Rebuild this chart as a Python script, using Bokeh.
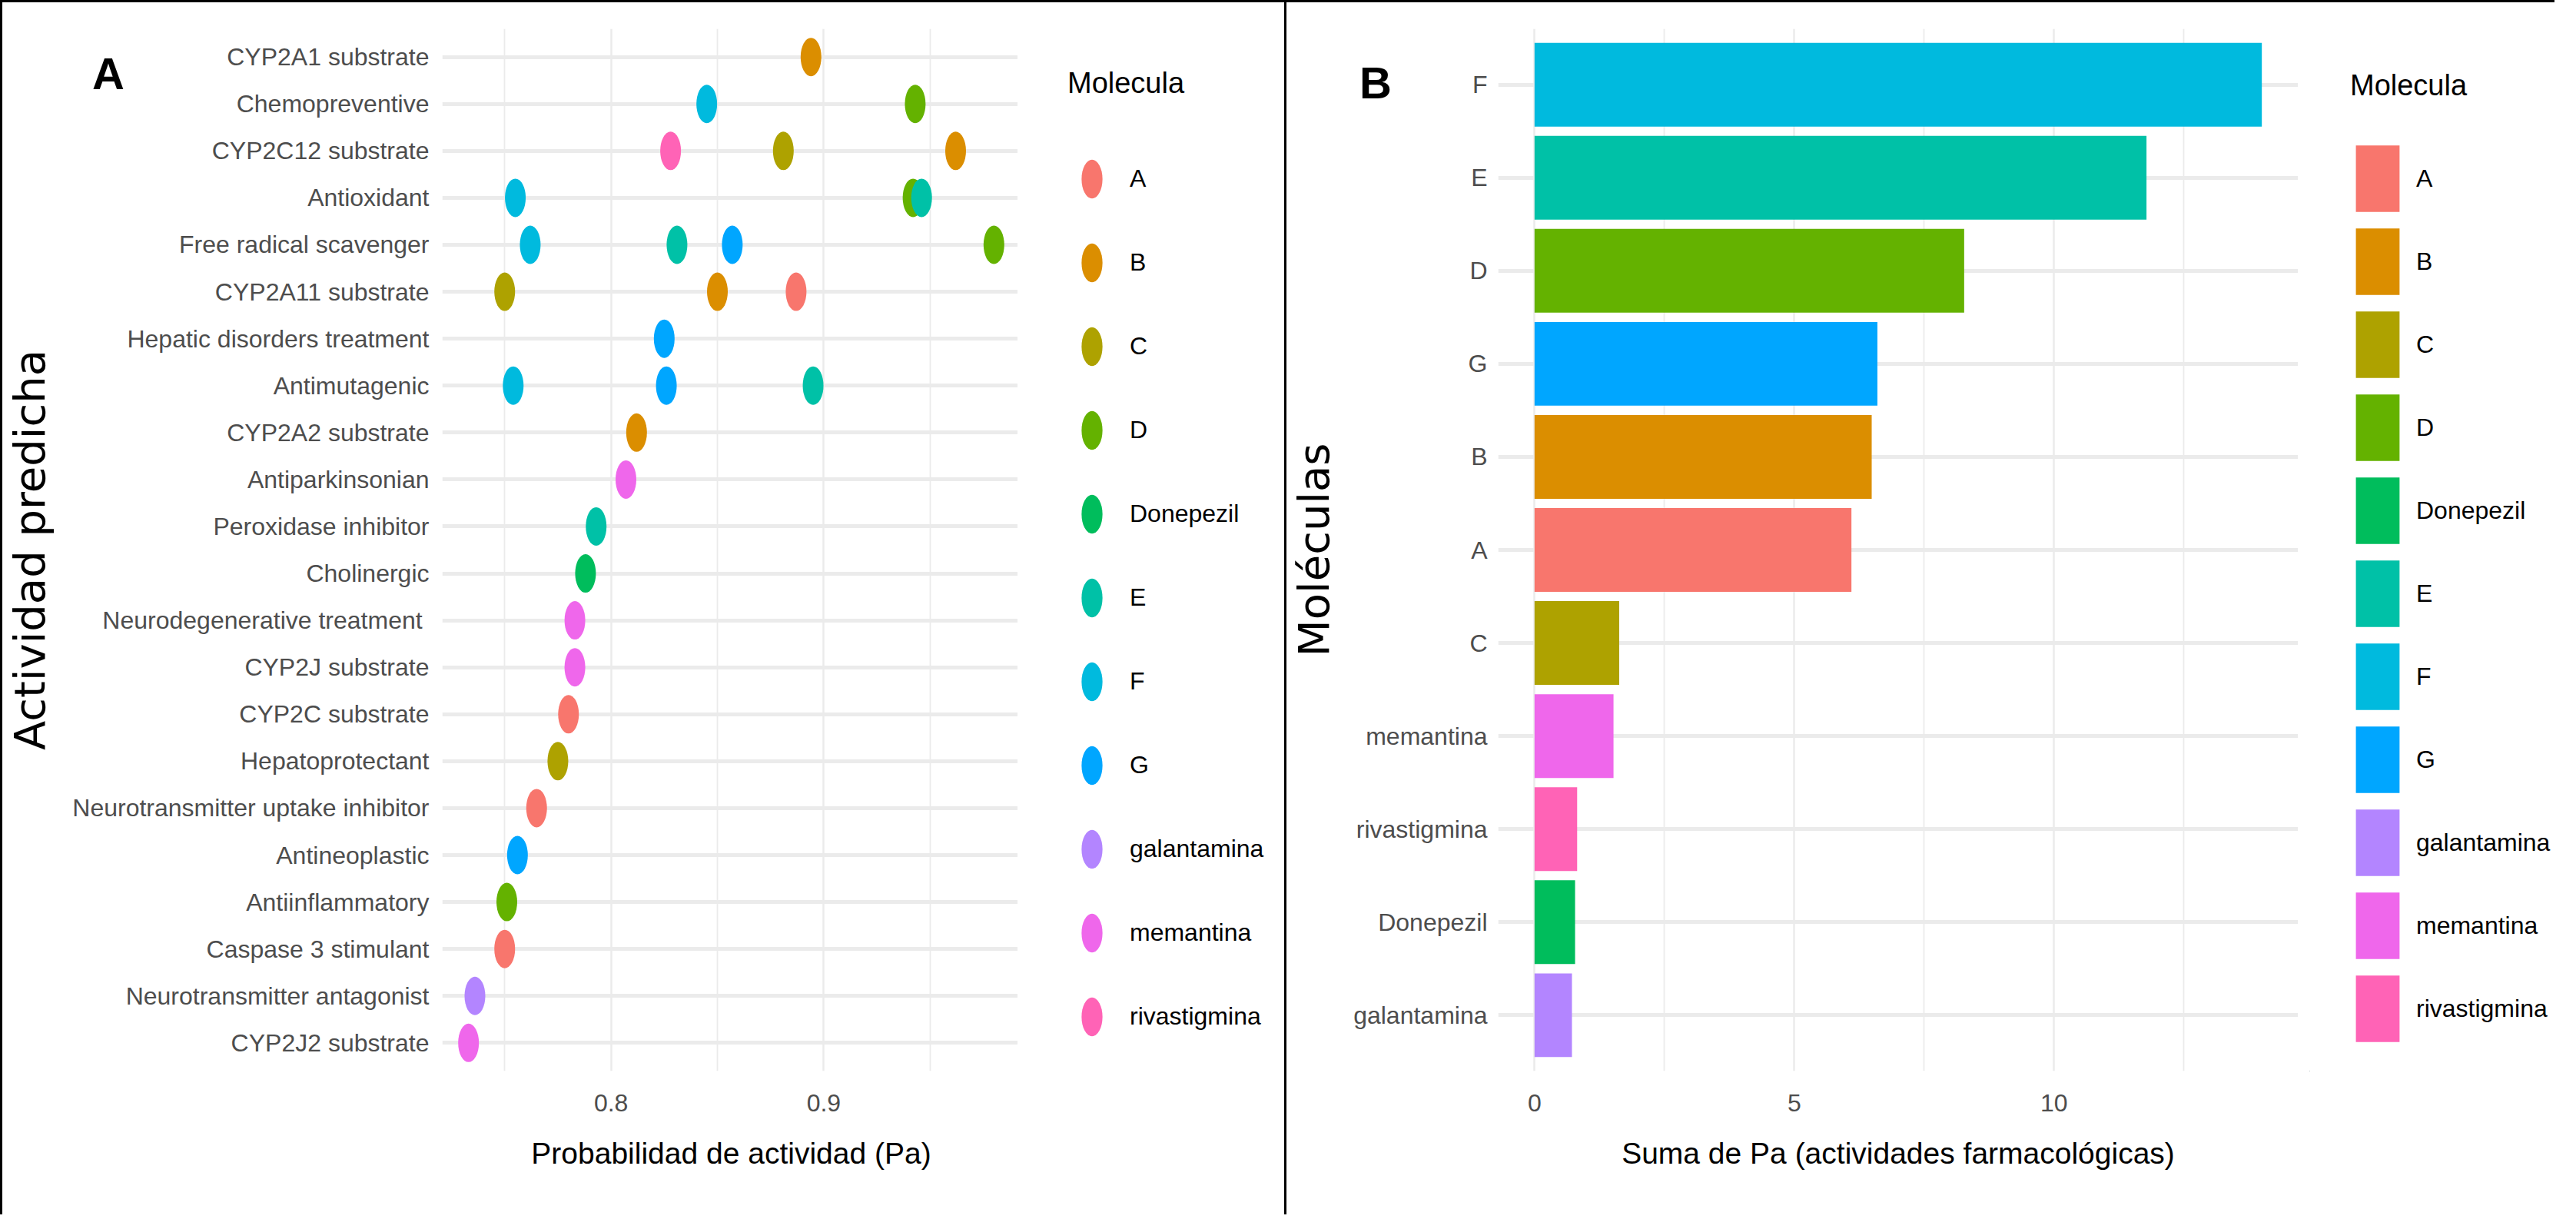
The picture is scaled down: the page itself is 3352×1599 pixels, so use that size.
from bokeh.plotting import figure
from bokeh.models import Range1d, FixedTicker, Legend, LegendItem, ColumnDataSource, Div
from bokeh.layouts import row, column
from bokeh.embed import file_html
from bokeh.resources import INLINE

# ---------------- data ----------------
molecules = ["A", "B", "C", "D", "Donepezil", "E", "F", "G",
             "galantamina", "memantina", "rivastigmina"]
palette = ["#F8766D", "#DB8E00", "#AEA200", "#64B200", "#00BD5C", "#00C1A7",
           "#00BADE", "#00A6FF", "#B385FF", "#EF67EB", "#FF63B6"]

activities = ["CYP2A1 substrate", "Chemopreventive", "CYP2C12 substrate", "Antioxidant",
              "Free radical scavenger", "CYP2A11 substrate", "Hepatic disorders treatment",
              "Antimutagenic", "CYP2A2 substrate", "Antiparkinsonian", "Peroxidase inhibitor",
              "Cholinergic", "Neurodegenerative  treatment", "CYP2J substrate",
              "CYP2C substrate", "Hepatoprotectant", "Neurotransmitter uptake inhibitor",
              "Antineoplastic", "Antiinflammatory", "Caspase 3 stimulant",
              "Neurotransmitter antagonist", "CYP2J2 substrate"]

pa_activity = ["CYP2A1 substrate",
               "Chemopreventive", "Chemopreventive",
               "CYP2C12 substrate", "CYP2C12 substrate", "CYP2C12 substrate",
               "Antioxidant", "Antioxidant", "Antioxidant",
               "Free radical scavenger", "Free radical scavenger", "Free radical scavenger", "Free radical scavenger",
               "CYP2A11 substrate", "CYP2A11 substrate", "CYP2A11 substrate",
               "Hepatic disorders treatment",
               "Antimutagenic", "Antimutagenic", "Antimutagenic",
               "CYP2A2 substrate", "Antiparkinsonian", "Peroxidase inhibitor", "Cholinergic",
               "Neurodegenerative  treatment", "CYP2J substrate", "CYP2C substrate",
               "Hepatoprotectant", "Neurotransmitter uptake inhibitor", "Antineoplastic",
               "Antiinflammatory", "Caspase 3 stimulant", "Neurotransmitter antagonist",
               "CYP2J2 substrate"]
pa_molecule = ["B",
               "F", "D",
               "rivastigmina", "C", "B",
               "F", "D", "E",
               "F", "E", "G", "D",
               "C", "B", "A",
               "G",
               "F", "G", "E",
               "B", "memantina", "E", "Donepezil",
               "memantina", "memantina", "A",
               "C", "A", "G",
               "D", "A", "galantamina",
               "memantina"]
pa_value = [0.894,
            0.845, 0.943,
            0.828, 0.881, 0.962,
            0.755, 0.942, 0.946,
            0.762, 0.831, 0.857, 0.980,
            0.750, 0.850, 0.887,
            0.825,
            0.754, 0.826, 0.895,
            0.812, 0.807, 0.793, 0.788,
            0.783, 0.783, 0.780,
            0.775, 0.765, 0.756,
            0.751, 0.750, 0.736,
            0.733]

bar_molecules = ["F", "E", "D", "G", "B", "A", "C", "memantina", "rivastigmina",
                 "Donepezil", "galantamina"]
bar_sums = [14.00, 11.78, 8.27, 6.60, 6.49, 6.10, 1.63, 1.52, 0.82, 0.78, 0.72]

# ---------------- styling ----------------
TICK_FONT = "Liberation Sans"
TITLE_FONT = "DejaVu Sans"
GRID = "#EBEBEB"
BORDER = "3px solid black"
H = 1580


def style_common(p):
    p.background_fill_color = "white"
    p.border_fill_color = "white"
    p.outline_line_color = None
    for ax in (p.xaxis[0], p.yaxis[0]):
        ax.axis_line_color = None
        ax.major_tick_line_color = None
        ax.minor_tick_line_color = None
        ax.major_tick_in = 0
        ax.major_tick_out = 0
        ax.minor_tick_in = 0
        ax.minor_tick_out = 0
        ax.major_label_text_font = TICK_FONT
        ax.major_label_text_color = "#4D4D4D"
        ax.major_label_text_font_size = "32px"
    p.xaxis.axis_label_text_font = TICK_FONT
    p.xaxis.axis_label_text_font_style = "normal"
    p.xaxis.axis_label_text_font_size = "39px"
    p.xaxis.axis_label_text_color = "black"
    p.xaxis.major_label_standoff = 30
    p.xaxis.axis_label_standoff = 30
    p.yaxis.axis_label_text_font = TITLE_FONT
    p.yaxis.axis_label_text_font_style = "normal"
    p.yaxis.axis_label_text_font_size = "56px"
    p.yaxis.axis_label_text_color = "black"
    p.ygrid.grid_line_color = GRID
    p.ygrid.grid_line_width = 5
    p.xgrid.grid_line_color = GRID
    p.xgrid.grid_line_width = 2.5
    p.xgrid.minor_grid_line_color = GRID
    p.xgrid.minor_grid_line_width = 1.8


def legend_figure(width, left, top, border_styles):
    # a figure whose frame is the whole legend area; the data ranges are chosen so
    # that the shared glyphs fall outside it and only the legend is visible
    lf = figure(width=width, height=H, output_backend="svg", toolbar_location=None,
                title=None,
                x_range=Range1d(1000, 1001), y_range=Range1d(1000, 1001),
                x_axis_type=None, y_axis_type=None,
                min_border_left=left, min_border_right=0, min_border_top=top, min_border_bottom=0,
                styles=border_styles)
    lf.background_fill_color = "white"
    lf.border_fill_color = "white"
    lf.outline_line_color = None
    lf.grid.visible = False
    return lf


def make_legend(lf, items, margin, gw, gh, spacing, standoff, title_standoff):
    lg = Legend(items=items, title="Molecula", location="top_left", ncols=1)
    lg.title_text_font = TICK_FONT
    lg.title_text_font_size = "38px"
    lg.title_text_font_style = "normal"
    lg.title_text_color = "black"
    lg.label_text_font = TICK_FONT
    lg.label_text_font_size = "32px"
    lg.label_text_color = "black"
    lg.glyph_width = gw
    lg.glyph_height = gh
    lg.label_height = gh
    lg.spacing = spacing
    lg.padding = 0
    lg.margin = margin
    lg.label_standoff = standoff
    lg.title_standoff = title_standoff
    lg.border_line_color = None
    lg.background_fill_alpha = 0
    lf.add_layout(lg, "center")


def tag(text, left, top):
    return Div(text=text, styles={"position": "absolute", "left": f"{left}px", "top": f"{top}px",
                                  "font-family": "Liberation Sans", "font-weight": "bold",
                                  "font-size": "58px", "line-height": "1", "color": "black",
                                  "z-index": "10"})


# ---------------- panel A ----------------
n_act = len(activities)
act_pos = {a: n_act - i for i, a in enumerate(activities)}
vmin, vmax = min(pa_value), max(pa_value)
pad = 0.05 * (vmax - vmin)

LA, FWA, TA, BA = 566, 758, 32, 186
pA = figure(width=LA + FWA, height=H, output_backend="svg", toolbar_location=None,
            x_range=Range1d(vmin - pad, vmax + pad), y_range=Range1d(0.4, n_act + 0.6),
            min_border_left=LA, min_border_right=0, min_border_top=TA, min_border_bottom=BA,
            styles={"border-top": BORDER, "border-left": BORDER})
style_common(pA)
pA.xaxis.ticker = FixedTicker(ticks=[0.8, 0.9], minor_ticks=[0.75, 0.85, 0.95])
pA.xaxis.major_label_overrides = {0.8: "0.8", 0.9: "0.9"}
pA.yaxis.ticker = FixedTicker(ticks=list(range(1, n_act + 1)))
pA.yaxis.major_label_overrides = {act_pos[a]: a for a in activities}
pA.yaxis.major_label_standoff = 17
pA.xaxis.axis_label = "Probabilidad de actividad (Pa)"
pA.yaxis.axis_label = "Actividad predicha"
pA.yaxis.axis_label_standoff = 20

lA = legend_figure(350, 15, 8, {"border-top": BORDER, "border-right": BORDER})
itemsA = []
for m, c in zip(molecules, palette):
    xs = [v for v, mm in zip(pa_value, pa_molecule) if mm == m]
    ys = [act_pos[a] for a, mm in zip(pa_activity, pa_molecule) if mm == m]
    src = ColumnDataSource(dict(x=xs, y=ys))
    kw = dict(x="x", y="y", width=27, height=50, width_units="screen",
              height_units="screen", source=src, fill_color=c, line_color=None)
    pA.ellipse(**kw)
    r = lA.ellipse(**kw)
    itemsA.append(LegendItem(label=m, renderers=[r]))
make_legend(lA, itemsA, 50, 63, 63, 46, 18, 71)

# ---------------- panel B ----------------
n_bar = len(bar_molecules)
bar_pos = {m: n_bar - i for i, m in enumerate(bar_molecules)}
smax = max(bar_sums)

LB, FWB, TB, BB = 264, 1052, 34, 190
pB = figure(width=LB + FWB, height=H, output_backend="svg", toolbar_location=None,
            x_range=Range1d(-0.05 * smax, 1.05 * smax), y_range=Range1d(0.4, n_bar + 0.6),
            min_border_left=LB, min_border_right=0, min_border_top=TB, min_border_bottom=BB,
            styles={"border-top": BORDER})
style_common(pB)
pB.xaxis.ticker = FixedTicker(ticks=[0, 5, 10], minor_ticks=[2.5, 7.5, 12.5])
pB.yaxis.ticker = FixedTicker(ticks=list(range(1, n_bar + 1)))
pB.yaxis.major_label_overrides = {bar_pos[m]: m for m in bar_molecules}
pB.yaxis.major_label_standoff = 14
pB.xaxis.axis_label = "Suma de Pa (actividades farmacológicas)"
pB.yaxis.axis_label = "Moléculas"
pB.yaxis.axis_label_standoff = 16

lB = legend_figure(334, 15, 8, {"border-top": BORDER})
itemsB = []
for m, c in zip(molecules, palette):
    ys = [bar_pos[b] for b in bar_molecules if b == m]
    xs = [s for b, s in zip(bar_molecules, bar_sums) if b == m]
    src = ColumnDataSource(dict(y=ys, right=xs))
    kw = dict(y="y", right="right", left=0, height=0.9, source=src,
              fill_color=c, line_color=None)
    pB.hbar(**kw)
    r = lB.hbar(**kw)
    itemsB.append(LegendItem(label=m, renderers=[r]))
make_legend(lB, itemsB, 53, 71, 108, 0, 15, 45)

layout = column(row(pA, lA, pB, lB), tag("A", 115, 62), tag("B", 1764, 74))
open("out.html", "w").write(file_html(layout, INLINE))
